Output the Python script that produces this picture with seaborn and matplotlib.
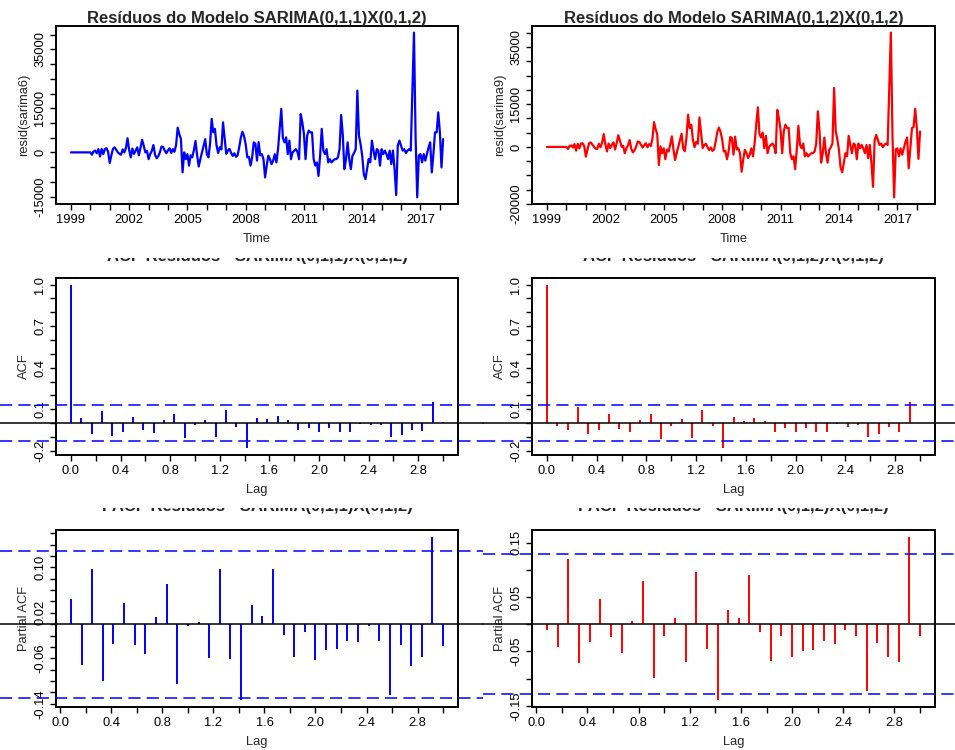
import numpy as np
import matplotlib
matplotlib.use("Agg")
import matplotlib.pyplot as plt
import seaborn as sns
from matplotlib.patches import Rectangle
from matplotlib.transforms import blended_transform_factory

# residuos mensais jan/1999 - mar/2018
resid_sarima6 = [
    0, 0, 0, 0, 0, 0, 0, 0, 0, 0, 0, 0,
    0, -800, 300, 600, -300, 1100, -1400, 1200, -600, 1100, 1400, 200,
    -3600, -1000, 1200, 1700, 900, 0, -500, -800, 1000, 0, 1500, 4800,
    800, -1700, 1300, -500, 600, 1700, -1000, 1500, 4300, 2300, 0, 500,
    -2300, -600, 500, 2500, -800, -2000, -1300, 0, 2000, 1800, 600, -300,
    700, 1400, -200, 1100, 200, 2500, 8400, 6200, 4500, -6800, 0, -2300,
    -600, -4500, -1000, -1700, 700, 3900, -1000, -4800, -2300, 0, 2300, 4500,
    -600, -1700, 3000, 11400, 6800, 8000, 2300, -200, 1700, 1000, 10200, 5000,
    -500, 600, 1200, -200, -1200, -300, -1500, -1000, 1700, 5000, 7000, 5500,
    2800, -1700, -1500, -4500, -1700, 3400, 3000, -2800, 3500, -1000, -600, -2300,
    -8500, -4500, -1100, -2300, -4000, -2800, -600, -3400, 1100, 8000, 14800, 4800,
    3400, 5100, -600, 4000, -2300, 0, 600, 1100, 200, -2300, 13000, 10200,
    6200, -2300, 5700, 7400, 6800, 6800, -2300, -4500, -3400, -8000, -1100, 8000,
    600, -600, 1100, -3400, -2300, -3400, -2800, -2300, -2300, -1700, 1100, 12700,
    6000, -5700, -2300, 3400, -2300, -5700, -1100, -200, 1100, 21000, 5700, 2800,
    -1100, -7400, -9100, -5700, -2300, -3400, 4000, 600, -2300, 1100, 600, -4500,
    1100, -600, 600, -600, -2300, 600, -4000, 600, -5700, -14500, 2300, 4000,
    2300, 600, 1100, -200, 600, 1100, 600, 20000, 40700, 5000, -15300, -1100,
    -600, -3400, -600, -2800, -600, 1700, 3400, -6800, -600, 6800, 6800, 13600,
    6800, -5100, 4500,
]
resid_sarima9 = [
    0, 0, 0, 0, 0, 0, 0, 0, 0, 0, 0, 0,
    0, -700, 400, 500, -200, 1000, -1300, 1100, -500, 1200, 1300, 300,
    -3400, -900, 1300, 1600, 800, 100, -600, -700, 1100, -100, 1400, 4500,
    900, -1600, 1200, -400, 700, 1600, -900, 1400, 4100, 2200, 100, 400,
    -2200, -500, 600, 2400, -700, -1900, -1200, 100, 1900, 1700, 700, -200,
    600, 1300, -100, 1000, 300, 2700, 8700, 6300, 4400, -6350, 200, -2200,
    -500, -4300, -900, -1600, 800, 3700, -900, -4600, -2100, 100, 2200, 4600,
    -500, -1500, 3200, 11300, 6600, 7800, 2400, -100, 1800, 1100, 10350, 4800,
    -400, 700, 1100, -100, -1100, -200, -1400, -900, 1800, 5200, 6800, 5300,
    2700, -1600, -1400, -4300, -1600, 3500, 3100, -2700, 3600, -900, -500, -2200,
    -8700, -4400, -1000, -2200, -3900, -2700, -500, -3300, 1200, 7800, 13900, 4600,
    3300, 5000, -500, 3900, -2200, 100, 700, 1200, 300, -2200, 13000, 10000,
    6000, -2200, 5500, 7800, 6600, 6700, -2200, -4300, -3300, -7800, -1000, 7400,
    700, -500, 1200, -3300, -2200, -3300, -2700, -2200, -2200, -1600, 1200, 12500,
    5800, -5500, -2200, 3300, -2200, -5500, -1000, -100, 1200, 20700, 5500, 2700,
    -1000, -7200, -8900, -5500, -2200, -3300, 3900, 700, -2200, 1200, 700, -4300,
    1200, -500, 700, -500, -2200, 700, -3900, 700, -5500, -14000, 2400, 4200,
    2400, 700, 1200, -100, 700, 1200, 700, 20200, 40100, 4000, -17700, -900,
    -500, -3300, -500, -2700, -500, 1800, 3300, -7500, -500, 6600, 7000, 13400,
    6700, -4200, 5400,
]

# ACF (lag 0..36) e PACF (lag 1..36)
acf6 = [1.0, 0.040, -0.079, 0.089, -0.091, -0.067, 0.045, -0.050, -0.074, 0.022,
        0.065, -0.110, -0.014, 0.022, -0.098, 0.093, -0.026, -0.182, 0.040, 0.033,
        0.053, 0.022, -0.050, -0.038, -0.067, -0.038, -0.062, -0.062, -0.005, -0.014,
        -0.012, -0.103, -0.086, -0.048, -0.055, 0.153, 0.010]
acf9 = [1.0, -0.019, -0.050, 0.118, -0.079, -0.050, 0.065, -0.043, -0.067, 0.022,
        0.065, -0.115, -0.019, 0.029, -0.110, 0.094, -0.024, -0.183, 0.046, 0.014,
        0.038, 0.014, -0.062, -0.038, -0.067, -0.038, -0.062, -0.067, -0.003, -0.026,
        -0.014, -0.103, -0.082, -0.031, -0.062, 0.154, 0.002]
pacf6 = [0.045, -0.071, 0.097, -0.100, -0.035, 0.037, -0.036, -0.053, 0.013, 0.070,
         -0.105, -0.004, 0.004, -0.060, 0.097, -0.062, -0.134, 0.033, 0.015, 0.097,
         -0.019, -0.057, -0.013, -0.063, -0.046, -0.044, -0.029, -0.032, -0.004, -0.029,
         -0.125, -0.036, -0.074, -0.058, 0.154, -0.038]
pacf9 = [-0.010, -0.041, 0.120, -0.072, -0.032, 0.046, -0.024, -0.053, 0.006, 0.080,
         -0.098, -0.022, 0.012, -0.069, 0.095, -0.046, -0.140, 0.027, 0.012, 0.090,
         -0.014, -0.067, -0.022, -0.061, -0.050, -0.047, -0.030, -0.036, -0.010, -0.021,
         -0.123, -0.035, -0.061, -0.069, 0.161, -0.021]
conf_limit = 0.129

models = ["SARIMA(0,1,1)X(0,1,2)", "SARIMA(0,1,2)X(0,1,2)"]
resid_names = ["resid(sarima6)", "resid(sarima9)"]
colors = ["blue", "red"]

sns.set_style("ticks")
plt.rcParams['font.family'] = ['Liberation Sans', 'DejaVu Sans']

W, H = 955, 750
FS = 9.3
fig = plt.figure(figsize=(W / 100, H / 100), dpi=100)


def px_axes(x0, y0, x1, y1):
    return fig.add_axes([x0 / W, 1 - y1 / H, (x1 - x0) / W, (y1 - y0) / H])


def r_lim(lo, hi):
    pad = 0.04 * (hi - lo)
    return lo - pad, hi + pad


def r_style(ax, xticks, xlabels, yticks, ylabels, xlab, ylab):
    for s in ax.spines.values():
        s.set_visible(True)
        s.set_linewidth(1.4)
        s.set_color("black")
    ax.tick_params(direction="out", length=4, width=1, colors="black", labelsize=FS, pad=3)
    ax.set_xticks(xticks)
    ax.set_xticklabels(xlabels)
    ax.set_yticks(yticks)
    ax.set_yticklabels(ylabels, rotation=90, va="center")
    ax.set_xlabel(xlab, fontsize=FS, labelpad=5)
    ax.set_ylabel(ylab, fontsize=FS, labelpad=3)


# colunas: posicao dos eixos e largura da celula
cols = [(56, 458, 0, 483), (532, 935, 483, W)]

ts_yticks = [list(range(-15000, 40001, 5000)), list(range(-20000, 40001, 5000))]
ts_shown = [{-15000, 0, 15000, 35000}, {-20000, 0, 15000, 35000}]
year_ticks = list(range(1999, 2019))
year_labels = [str(y) if (y - 1999) % 3 == 0 else "" for y in year_ticks]
lag_ticks = np.round(np.arange(0, 3.01, 0.2), 1)
lag_labels = [f"{v:.1f}" if i % 2 == 0 and i < 15 else "" for i, v in enumerate(lag_ticks)]
acf_yticks = np.round(np.arange(-0.2, 1.01, 0.1), 1)
acf_ylabels = [f"{v:.1f}" if i % 3 == 0 else "" for i, v in enumerate(acf_yticks)]
pacf_yticks = [np.round(np.arange(-0.14, 0.161, 0.02), 2), np.round(np.arange(-0.15, 0.151, 0.05), 2)]
pacf_ylabels = [[f"{v:.2f}" if i % 4 == 0 else "" for i, v in enumerate(pacf_yticks[0])],
                [f"{v:.2f}" if i % 2 == 0 else "" for i, v in enumerate(pacf_yticks[1])]]

acfs = [acf6, acf9]
pacfs = [pacf6, pacf9]
resids = [resid_sarima6, resid_sarima9]


def cell_lines(ax, c0, c1):
    tr = blended_transform_factory(fig.transFigure, ax.transData)
    for y in [conf_limit, -conf_limit]:
        ax.plot([c0 / W, c1 / W], [y, y], transform=tr, clip_on=False, color="blue",
                lw=1.1, linestyle=(0, (8, 4)), zorder=3)
    ax.plot([c0 / W, c1 / W], [0, 0], transform=tr, clip_on=False, color="black", lw=1.1, zorder=3)


def clipped_title(ax, text, base_px, cut_px):
    # titulo cortado pela borda do painel de cima (como no original):
    # so a parte de baixo das letras aparece
    pos = ax.get_position()
    fig.text(pos.x0 + pos.width / 2, 1 - base_px / H, text, ha="center", va="baseline",
             fontsize=12, fontweight="bold", zorder=3)
    fig.add_artist(Rectangle((pos.x0, 1 - cut_px / H), pos.width, 12 / H,
                             transform=fig.transFigure, facecolor="white",
                             edgecolor="none", zorder=10))


for k in range(2):
    x0, x1, c0, c1 = cols[k]

    # serie de residuos
    ax = px_axes(x0, 26, x1, 204)
    vals = np.array(resids[k], dtype=float)
    years = 1999 + np.arange(len(vals)) / 12
    sns.lineplot(x=years, y=vals, ax=ax, color=colors[k], linewidth=1.6)
    r_style(ax, year_ticks, year_labels, ts_yticks[k],
            [str(v) if v in ts_shown[k] else "" for v in ts_yticks[k]], "Time", resid_names[k])
    ax.set_xlim(*r_lim(years[0], years[-1]))
    ax.set_ylim(*r_lim(vals.min(), vals.max()))
    ax.set_title("Resíduos do Modelo " + models[k], fontsize=12, fontweight="bold", pad=2)

    # ACF
    ax = px_axes(x0, 278, x1, 455)
    acf = np.array(acfs[k])
    lags = np.arange(len(acf)) / 12
    ax.vlines(lags, 0, acf, color=colors[k], lw=1.4)
    cell_lines(ax, c0, c1)
    r_style(ax, lag_ticks, lag_labels, acf_yticks, acf_ylabels, "Lag", "ACF")
    ax.set_xlim(*r_lim(lags[0], lags[-1]))
    ax.set_ylim(*r_lim(min(acf.min(), -conf_limit), max(acf.max(), conf_limit)))
    clipped_title(ax, "ACF Resíduos - " + models[k], 261, 258)

    # PACF
    ax = px_axes(x0, 530, x1, 707)
    pacf = np.array(pacfs[k])
    lags = np.arange(1, len(pacf) + 1) / 12
    ax.vlines(lags, 0, pacf, color=colors[k], lw=1.4)
    cell_lines(ax, c0, c1)
    r_style(ax, lag_ticks, lag_labels, pacf_yticks[k], pacf_ylabels[k], "Lag", "Partial ACF")
    ax.set_xlim(*r_lim(lags[0], lags[-1]))
    ax.set_ylim(*r_lim(min(pacf.min(), -conf_limit), max(pacf.max(), conf_limit)))
    clipped_title(ax, "PACF Resíduos - " + models[k], 511, 508)

fig.savefig("out.png", dpi=100)
